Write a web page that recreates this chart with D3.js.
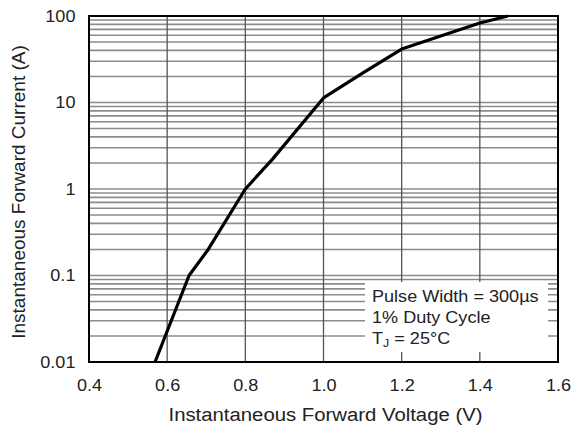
<!DOCTYPE html>
<html>
<head>
<meta charset="utf-8">
<script src="https://cdn.jsdelivr.net/npm/d3@7"></script>
<style>
  body { margin: 0; background: #fff; }
  text { font-family: "Liberation Sans", Arial, sans-serif; fill: #222; }
</style>
</head>
<body>
<svg id="chart" width="571" height="428"></svg>
<script>
// forward voltage curve
var voltage = [0.569, 0.656, 0.705, 0.8, 0.869, 1.0, 1.1, 1.2, 1.4, 1.472];
var current = [0.01, 0.1, 0.2, 1, 2.2, 11.3, 21.9, 41.5, 83, 100];

var xTicks = [0.4, 0.6, 0.8, 1.0, 1.2, 1.4, 1.6];
var yTicks = [0.01, 0.1, 1, 10, 100];
var yTickLabels = ['0.01', '0.1', '1', '10', '100'];
var legendLines = ['Pulse Width = 300µs', '1% Duty Cycle'];

var svg = d3.select('#chart');
var stretch = 'scale(1.13,1)';

var x = d3.scaleLinear().domain([0.4, 1.6]).range([89, 558]);
var y = d3.scaleLog().domain([0.01, 100]).range([362, 16]);

// horizontal grid: every 1..9 step of each decade
var minor = [];
[0.01, 0.1, 1, 10].forEach(function (d) {
  for (var k = 1; k < 10; k++) {
    if (d * k > 0.01) minor.push(d * k);
  }
});

svg.append('g')
  .selectAll('line')
  .data(minor)
  .enter().append('line')
  .attr('x1', x(0.4)).attr('x2', x(1.6))
  .attr('y1', function (d) { return y(d); })
  .attr('y2', function (d) { return y(d); })
  .attr('stroke', '#8c8c8c')
  .attr('stroke-width', 1.6);

svg.append('g')
  .selectAll('line')
  .data(xTicks.slice(1, -1))
  .enter().append('line')
  .attr('x1', function (d) { return x(d); })
  .attr('x2', function (d) { return x(d); })
  .attr('y1', y(100)).attr('y2', y(0.01))
  .attr('stroke', '#555')
  .attr('stroke-width', 1.3);

// legend box sits over the grid
var lg = svg.append('g');
lg.append('rect')
  .attr('x', 365).attr('y', 282)
  .attr('width', 183).attr('height', 70)
  .attr('fill', '#fff');

legendLines.forEach(function (t, i) {
  lg.append('text')
    .attr('transform', 'translate(372,' + (302 + i * 21) + ') ' + stretch)
    .attr('font-size', 16)
    .text(t);
});
var tj = lg.append('text')
  .attr('transform', 'translate(372,344) ' + stretch)
  .attr('font-size', 16);
tj.append('tspan').text('T');
tj.append('tspan').attr('font-size', 11).attr('dy', 3).text('J');
tj.append('tspan').attr('dy', -3).text(' = 25°C');

// curve
var line = d3.line()
  .x(function (d, i) { return x(voltage[i]); })
  .y(function (d, i) { return y(current[i]); });

svg.append('path')
  .datum(voltage)
  .attr('d', line)
  .attr('fill', 'none')
  .attr('stroke', '#000')
  .attr('stroke-width', 3.2)
  .attr('stroke-linejoin', 'round');

// frame
svg.append('rect')
  .attr('x', x(0.4)).attr('y', y(100))
  .attr('width', x(1.6) - x(0.4))
  .attr('height', y(0.01) - y(100))
  .attr('fill', 'none')
  .attr('stroke', '#000')
  .attr('stroke-width', 2);

// axes
var xAxis = svg.append('g')
  .attr('transform', 'translate(0,' + y(0.01) + ')')
  .call(d3.axisBottom(x).tickValues(xTicks).tickFormat(d3.format('.1f')).tickSize(0).tickPadding(18));
xAxis.select('.domain').remove();
xAxis.selectAll('text')
  .attr('font-size', 16)
  .attr('font-family', '"Liberation Sans", Arial, sans-serif')
  .attr('fill', '#222')
  .attr('transform', stretch);

var yAxis = svg.append('g')
  .attr('transform', 'translate(' + x(0.4) + ',0)')
  .call(d3.axisLeft(y).tickValues(yTicks)
    .tickFormat(function (d, i) { return yTickLabels[i]; })
    .tickSize(0).tickPadding(12));
yAxis.select('.domain').remove();
yAxis.selectAll('text')
  .attr('font-size', 16)
  .attr('font-family', '"Liberation Sans", Arial, sans-serif')
  .attr('fill', '#222')
  .attr('transform', stretch);

svg.append('text')
  .attr('transform', 'translate(' + ((168 + 483) / 2) + ',421) ' + stretch)
  .attr('text-anchor', 'middle')
  .attr('font-size', 18)
  .text('Instantaneous Forward Voltage (V)');

svg.append('text')
  .attr('transform', 'translate(25,192) rotate(-90)')
  .attr('text-anchor', 'middle')
  .attr('font-size', 19)
  .text('Instantaneous Forward Current (A)');
</script>
</body>
</html>
